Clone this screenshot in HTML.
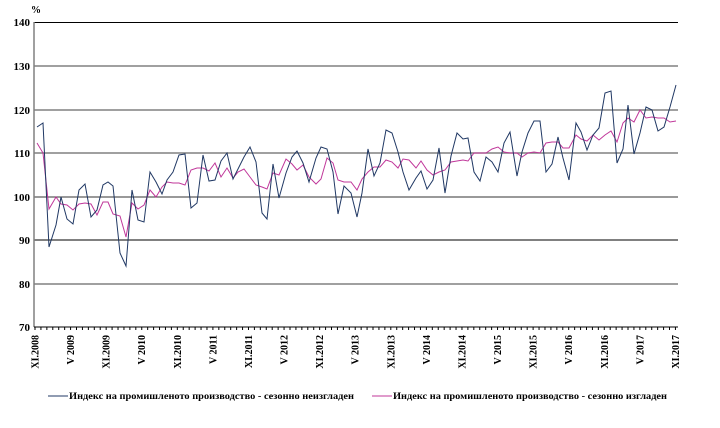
<!DOCTYPE html>
<html><head><meta charset="utf-8"><style>
body{margin:0;background:#fff;width:720px;height:423px;overflow:hidden}
svg text{font-family:"Liberation Serif",serif;font-weight:bold;fill:#000}
</style></head><body>
<svg width="720" height="423" viewBox="0 0 720 423" xmlns="http://www.w3.org/2000/svg">
<g stroke="#808080" stroke-width="1.5">
<line x1="34" y1="22.5" x2="678" y2="22.5" stroke="#000" stroke-width="1"/>
<line x1="34" y1="66" x2="678" y2="66"/>
<line x1="34" y1="110" x2="678" y2="110"/>
<line x1="34" y1="153" x2="678" y2="153"/>
<line x1="34" y1="197" x2="678" y2="197" stroke="#333" stroke-width="1"/>
<line x1="34" y1="240" x2="678" y2="240" stroke="#000" stroke-width="1"/>
<line x1="34" y1="284" x2="678" y2="284"/>
<line x1="34" y1="22" x2="34" y2="327"/>
</g>
<line x1="34" y1="327" x2="678" y2="327" stroke="#000" stroke-width="1"/>
<g id="ticks" stroke="#000" stroke-width="1"></g>
<g font-size="11">
<text x="30" y="26" text-anchor="end">140</text>
<text x="30" y="70" text-anchor="end">130</text>
<text x="30" y="114" text-anchor="end">120</text>
<text x="30" y="157" text-anchor="end">110</text>
<text x="30" y="201" text-anchor="end">100</text>
<text x="30" y="244" text-anchor="end">90</text>
<text x="30" y="288" text-anchor="end">80</text>
<text x="30" y="331" text-anchor="end">70</text>
<text x="31" y="13" font-size="10">%</text>
</g>
<g id="xl" font-size="10"></g>
<polyline fill="none" stroke="#c0379a" stroke-width="1" points="37,143 43,153 49,209 56,197 61,204 67,205 73,210 79,204 85,203 91,204 97,215 103,202 108,202 113,214 120,216 126,237 132,203 138,209 144,205 150,190 156,197 162,187 167,182 173,183 179,183 185,185 191,170 197,168 203,168 209,171 215,163 221,177 227,168 233,178 238,172 244,169 250,177 256,185 262,187 267,189 273,173 279,175 286,159 292,164 297,170 303,165 309,177 316,184 321,179 327,158 333,163 338,180 344,182 351,182 357,190 362,179 368,172 374,167 380,167 386,160 392,162 398,168 403,159 409,160 416,168 421,161 427,170 433,175 439,172 445,170 451,162 457,161 463,160 468,161 474,153 480,153 486,153 492,149 498,147 504,152 510,153 517,153 522,157 528,153 534,152 540,153 546,143 552,142 558,142 563,148 569,148 576,135 581,139 587,141 593,135 599,140 605,135 611,131 617,142 623,123 628,118 634,122 640,110 646,118 652,117 658,118 664,118 670,122 676,121"/>
<polyline fill="none" stroke="#203864" stroke-width="1" points="37,127 43,123 49,247 56,225 61,197 67,219 73,224 79,190 85,184 91,217 97,210 103,185 108,182 113,186 120,253 126,266 132,190 138,220 144,222 150,172 156,182 162,194 167,180 173,172 179,155 185,154 191,208 197,203 203,155 209,181 215,180 221,161 227,153 233,179 238,169 244,157 250,147 256,162 262,213 267,219 273,164 279,198 286,173 292,157 297,151 303,163 309,182 316,158 321,147 327,149 333,172 338,214 344,186 351,193 357,217 362,193 368,149 374,176 380,163 386,130 392,133 398,152 403,172 409,190 416,178 421,171 427,189 433,180 439,148 445,193 451,156 457,133 463,139 468,138 474,172 480,181 486,157 492,162 498,172 504,143 510,132 517,176 522,152 528,133 534,121 540,121 546,172 552,164 558,137 563,158 569,180 576,123 581,132 587,150 593,135 599,128 605,93 611,91 617,163 623,149 628,105 634,154 640,133 646,107 652,110 658,131 664,127 670,107 676,85"/>
<line x1="48" y1="396" x2="68" y2="396" stroke="#203864" stroke-width="1"/>
<text x="69" y="399" font-size="9" textLength="285" lengthAdjust="spacingAndGlyphs">Индекс на промишленото производство - сезонно неизгладен</text>
<line x1="372" y1="396" x2="392" y2="396" stroke="#c0379a" stroke-width="1"/>
<text x="393" y="399" font-size="9" textLength="274" lengthAdjust="spacingAndGlyphs">Индекс на промишленото производство - сезонно изгладен</text>
</svg>
<script>
var t=document.getElementById('ticks'),xl=document.getElementById('xl'),ns='http://www.w3.org/2000/svg';
var s='';for(var i=0;i<=108;i++){var x=35+i*5.93;s+='<line x1="'+x+'" y1="327" x2="'+x+'" y2="330"/>';}
t.innerHTML=s;
var labs=['XI.2008','V 2009','XI.2009','V 2010','XI.2010','V 2011','XI.2011','V 2012','XI.2012','V 2013','XI.2013','V 2014','XI.2014','V 2015','XI.2015','V 2016','XI.2016','V 2017','XI.2017'];
var h='';labs.forEach(function(l,k){var x=35+k*6*5.93+3.5;h+='<text transform="translate('+x+',335) rotate(-90)" text-anchor="end">'+l+'</text>';});
xl.innerHTML=h;
</script>
</body></html>
